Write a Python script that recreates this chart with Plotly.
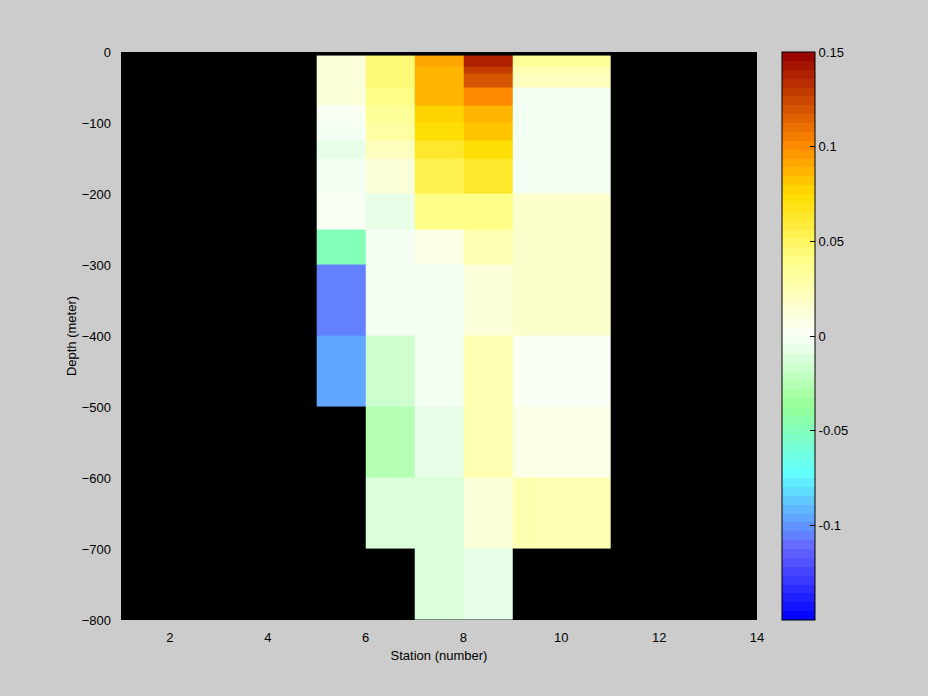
import numpy as np
import plotly.graph_objects as go

# Cell edges
station_edges = [5, 6, 7, 8, 9, 10, 11]
depth_edges = [-5, -20, -30, -50, -75, -100, -125, -150, -200, -250, -300, -400, -500, -600, -700, -800]

nan = float("nan")
# values per station column, top (shallow) to bottom (deep)
st5 = [0.010, 0.010, 0.010, 0.010, 0.003, -0.002, -0.006, -0.002, 0.003, -0.048, -0.107, -0.097, nan, nan, nan]
st6 = [0.046, 0.046, 0.046, 0.042, 0.037, 0.032, 0.023, 0.010, -0.006, -0.002, -0.002, -0.0155, -0.024, -0.0096, nan]
st7 = [0.092, 0.088, 0.088, 0.085, 0.0795, 0.073, 0.061, 0.054, 0.040, 0.0065, -0.002, -0.002, -0.006, -0.0096, -0.0096]
st8 = [0.137, 0.131, 0.119, 0.101, 0.086, 0.083, 0.074, 0.061, 0.042, 0.024, 0.013, 0.024, 0.024, 0.013, -0.006]
st9 = [0.034, 0.025, 0.022, -0.002, -0.002, -0.002, -0.002, -0.002, 0.015, 0.0175, 0.0175, 0.004, 0.006, 0.024, nan]
st10 = [0.034, 0.025, 0.022, -0.002, -0.002, -0.002, -0.002, -0.002, 0.015, 0.0175, 0.0175, 0.004, 0.006, 0.024, nan]

x_ticks = [2, 4, 6, 8, 10, 12, 14]
y_ticks = [0, -100, -200, -300, -400, -500, -600, -700, -800]
cb_ticks = [0.15, 0.1, 0.05, 0, -0.05, -0.1]
cb_ticktext = ["0.15", "0.1", "0.05", "0", "-0.05", "-0.1"]

# colormap knots (value, rgb)
knots_v = [-0.15, -0.112, -0.1, -0.073, -0.037, 0.0, 0.04, 0.074, 0.1, 0.15]
knots_c = [(0, 0, 255), (102, 102, 255), (96, 150, 255), (96, 255, 255), (150, 255, 150),
           (250, 255, 250), (255, 255, 136), (255, 221, 0), (255, 140, 0), (150, 0, 0)]

zmin, zmax, nlev = -0.15, 0.15, 64
kc = np.array(knots_c, dtype=float)
colorscale = []
for i in range(nlev):
    v = zmin + (i + 0.5) * (zmax - zmin) / nlev
    rgb = [int(round(np.interp(v, knots_v, kc[:, k]))) for k in range(3)]
    col = "rgb(%d,%d,%d)" % tuple(rgb)
    colorscale.append([i / nlev, col])
    colorscale.append([(i + 1) / nlev, col])

z = np.array([st5, st6, st7, st8, st9, st10], dtype=float).T  # rows = depth, cols = station
# ascending y edges
y_edges = depth_edges[::-1]
z = z[::-1, :]

fig = go.Figure()
fig.add_trace(go.Heatmap(
    x=station_edges, y=y_edges, z=z,
    zmin=zmin, zmax=zmax, colorscale=colorscale, zsmooth=False,
    colorbar=dict(
        x=(782 - 121) / 636, xanchor="left", xpad=0,
        y=0.5, yanchor="middle", ypad=0, len=1, lenmode="fraction",
        thickness=33, thicknessmode="pixels",
        outlinewidth=1, outlinecolor="black",
        tickvals=cb_ticks, ticktext=cb_ticktext,
        ticks="inside", ticklen=5, tickcolor="black",
        tickfont=dict(family="Liberation Sans", size=13, color="black"),
    ),
    hoverinfo="skip",
))

fig.update_layout(
    width=928, height=696,
    margin=dict(l=121, r=171, t=52, b=76),
    paper_bgcolor="#cccccc", plot_bgcolor="black",
    font=dict(family="Liberation Sans", size=13, color="black"),
    showlegend=False,
)
fig.update_xaxes(
    range=[1, 14], tickvals=x_ticks, ticks="",
    showgrid=False, zeroline=False, showline=False, ticklabelstandoff=8,
    title=dict(text="Station (number)", standoff=6, font=dict(size=13)),
)
fig.update_yaxes(
    range=[-800, 0], tickvals=y_ticks, ticks="",
    showgrid=False, zeroline=False, showline=False, ticklabelstandoff=9,
    title=dict(text="Depth (meter)", standoff=2, font=dict(size=13)),
)

fig.write_html("out.html", config={"displayModeBar": False},
               post_script="document.body.style.margin='0';document.body.style.overflow='hidden';")
